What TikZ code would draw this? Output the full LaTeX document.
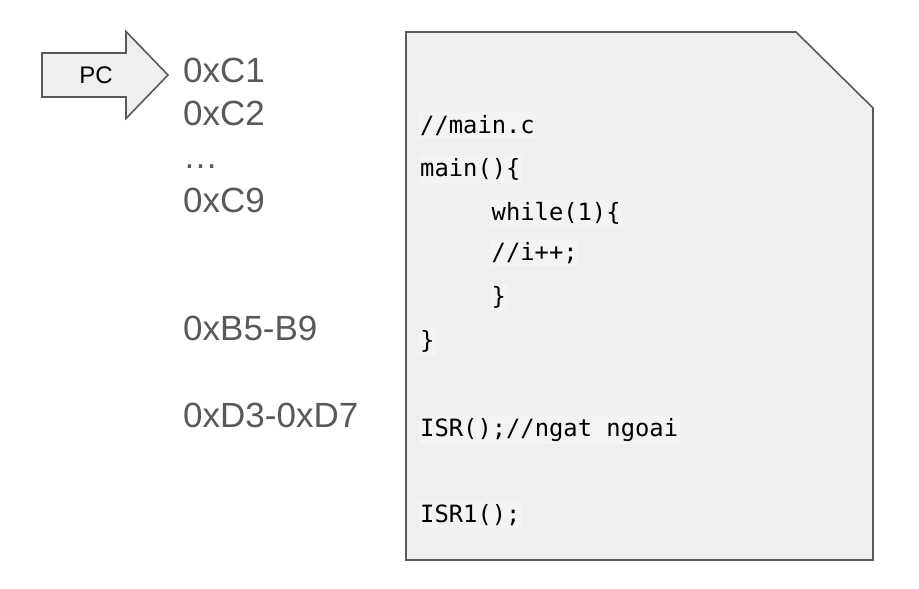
\documentclass[tikz,border=0pt]{standalone}
\usepackage{fontspec}
\setmainfont{Liberation Sans}
\newfontfamily\codefont{DejaVu Sans Mono}
\definecolor{boxfill}{HTML}{EFEFEF}
\definecolor{hlfill}{HTML}{F3F3F3}
\definecolor{edgegray}{HTML}{595959}
\definecolor{addrgray}{HTML}{595959}
\begin{document}
\begin{tikzpicture}[x=1pt,y=-1pt,
  addr/.style={anchor=base west,inner sep=0pt,text=addrgray,font=\fontsize{35}{40}\selectfont},
  code/.style={anchor=base west,inner xsep=1.5pt,inner ysep=3pt,fill=hlfill,text=black,font=\codefont\fontsize{23.8}{28}\selectfont},
  shapeline/.style={draw=edgegray,line width=1.6pt,fill=boxfill,line join=miter}]
\useasboundingbox (0,0) rectangle (919,589);
% PC arrow
\draw[shapeline] (42,53) -- (126,53) -- (126,31.5) -- (168,75) -- (126,118.5) -- (126,97) -- (42,97) -- cycle;
\node[font=\fontsize{24}{28}\selectfont,text=black] (pc) at (96,75) {PC};
% addresses
\node[addr] (a1) at (183,82) {0xC1};
\node[addr] (a2) at (183,125) {0xC2};
\node[addr] (a3) at (183,168) {\ldots};
\node[addr] (a4) at (183,212) {0xC9};
\node[addr] (a5) at (183,340) {0xB5-B9};
\node[addr] (a6) at (183,427) {0xD3-0xD7};
% code sheet
\draw[shapeline] (406,32) -- (796,32) -- (873,108) -- (873,560) -- (406,560) -- cycle;
\node[code] (c1) at (418.5,133) {//main.c};
\node[code] (c2) at (418.5,176) {main()\{};
\node[code] (c3) at (490,220) {while(1)\{};
\node[code] (c4) at (490,260) {//i++;};
\node[code] (c5) at (490,304) {\}};
\node[code] (c6) at (418.5,348) {\}};
\node[code] (c7) at (418.5,436) {ISR();//ngat ngoai};
\node[code] (c8) at (418.5,522) {ISR1();};
\end{tikzpicture}
\end{document}
